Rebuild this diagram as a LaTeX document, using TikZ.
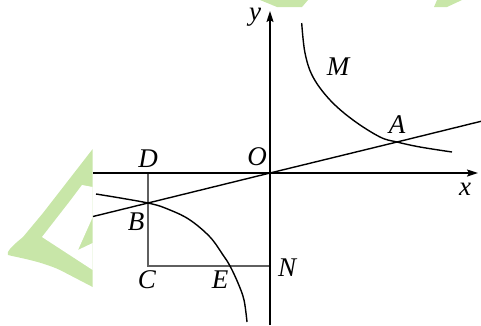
\documentclass[tikz,border=0pt]{standalone}
\usepackage{fontspec}
\setmainfont{Liberation Serif}
\usetikzlibrary{arrows.meta}
\definecolor{wm}{RGB}{200,230,168}
\definecolor{segc}{RGB}{95,95,95}
\begin{document}
\begin{tikzpicture}[x=1pt,y=-1pt,
  lbl/.style={font=\fontsize{27}{27}\selectfont\itshape, inner sep=0pt},
  axisline/.style={line width=1.6pt, -{Stealth[length=11pt,width=7pt,inset=2pt]}},
  curveline/.style={line width=1.4pt},
  segline/.style={line width=2.2pt, draw=segc},
  wmfill/.style={fill=wm, draw=none}]
\useasboundingbox (0,0) rectangle (481,325);
% watermark
\fill[wmfill] (92.7,149) -- (43,213) -- (23,237) .. controls (12,246) and (6,252) .. (8,255) .. controls (20,258) and (40,261) .. (60,270) -- (92.7,287) -- cycle;
\fill[white] (82,185) -- (92.7,187) -- (92.7,217) -- (78,250) -- (92.7,243) -- (92.7,270) -- (42,237) -- (70,201) -- cycle;
\fill[wmfill] (260,0) -- (308,0) -- (302,7) -- (277,7) -- cycle;
\fill[wmfill] (437,0) -- (462,0) -- (447,7) -- (434,7) -- cycle;
% points
\coordinate (O) at (270,173);
\coordinate (B) at (148,203);
\coordinate (A) at (397,142);
\coordinate (D) at (148,173);
\coordinate (C) at (148,266);
\coordinate (N) at (270,266);
\coordinate (E) at (230,266);
\coordinate (xs) at (93,173);
\coordinate (xe) at (478,173);
\coordinate (ys) at (270,325);
\coordinate (ye) at (270,11);
\coordinate (ls) at (93,216.5);
\coordinate (le) at (481,121.3);
% rectangle part
\draw[segline] (D) -- (C) -- (N);
% axes
\draw[axisline] (xs) -- (xe);
\draw[axisline] (ys) -- (ye);
% line through O
\draw[curveline] (ls) -- (B) -- (O) -- (A) -- (le);
% hyperbola branches
\draw[curveline] plot[smooth, tension=0.6] coordinates {(301.7,23) (305,53) (313,77) (330,100) (353,120) (380,137) (397,142) (420,147) (452,152)};
\draw[curveline] plot[smooth, tension=0.6] coordinates {(96,194) (148,203) (170,210) (190,220) (210,237) (223,255) (230,266) (238,283) (244,300) (247,322)};
% labels
\node[lbl] (ly) at (255,17) {y};
\node[lbl] (lx) at (465,189) {x};
\node[lbl] (lO) at (257,157) {O};
\node[lbl] (lD) at (148,159) {D};
\node[lbl] (lB) at (136,222) {B};
\node[lbl] (lC) at (147,280) {C};
\node[lbl] (lE) at (220,280) {E};
\node[lbl] (lN) at (287,268) {N};
\node[lbl] (lM) at (338,67) {M};
\node[lbl] (lA) at (397,125) {A};
\end{tikzpicture}
\end{document}
